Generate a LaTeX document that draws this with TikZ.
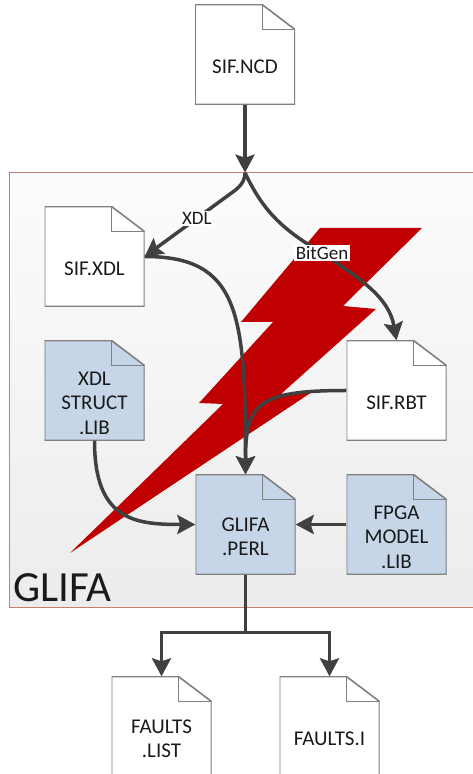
\documentclass[tikz,border=0pt]{standalone}
\usepackage{fontspec}
\setmainfont{Carlito}
\usepackage{tikz}
\usetikzlibrary{positioning}
\usetikzlibrary{arrows.meta}

\definecolor{libblue}{RGB}{198,214,232}
\definecolor{pagegray}{RGB}{128,128,128}
\definecolor{linkgray}{RGB}{64,64,64}
\definecolor{boltred}{RGB}{192,0,0}
\definecolor{framered}{RGB}{196,128,108}
\definecolor{textgray}{RGB}{26,26,26}

\begin{document}
\begin{tikzpicture}[
    x=1pt, y=1pt,                     % everything in points
    on grid,                          % place pages centre to centre
    node distance=134pt and 151pt,    % spacing of the page grid
    ]
% -------------------------------------------------
\tikzset{
  page/.style={rectangle, minimum width=100pt, minimum height=100pt, inner sep=0pt,
    path picture={
      \filldraw[draw=pagegray, line width=1.6pt, fill=#1]
        (path picture bounding box.north west) -- ([xshift=-33pt]path picture bounding box.north east)
        -- ([yshift=-25pt]path picture bounding box.north east) -- (path picture bounding box.south east)
        -- (path picture bounding box.south west) -- cycle;
      \draw[pagegray, line width=0.8pt] ([xshift=-33pt]path picture bounding box.north east)
        |- ([yshift=-25pt]path picture bounding box.north east);
    }},
  page/.default=white,
  pagetext/.style={align=center, text=textgray, yshift=-12.5pt, font=\fontsize{21}{24.5}\selectfont},
  tag/.style={fill=white, inner sep=1.5pt, text=textgray, font=\fontsize{19}{20}\selectfont},
  link/.style={draw=linkgray, line width=3.5pt, -{Stealth[length=18pt, width=19pt, inset=3pt]}},
}
    \useasboundingbox (0,0) rectangle (473,774);

    % GLIFA frame and the bolt behind it all
    \draw[framered, line width=1pt, top color={rgb,255:red,252;green,252;blue,252},
          bottom color={rgb,255:red,236;green,236;blue,236}] (9.5,601) rectangle (490,166);
    \node[anchor=base west, inner sep=0pt, text=textgray, font=\fontsize{43}{43}\selectfont] (glifa) at (13,172) {GLIFA};
    \fill[boltred] (320,546) -- (422,546) -- (343,468) -- (376,465) -- (281,380) -- (312,382)
        -- (70,221) -- (223,370) -- (199,371) -- (273,452) -- (241,452) -- cycle;

    \node [page, label={[pagetext]center:SIF.NCD}] (ncd) at (245,719.5) {};
    \node [page, label={[pagetext]center:SIF.XDL}] (sifxdl) at (94.5,517.5) {};
    \node [page=libblue, below=of sifxdl, label={[pagetext]center:{XDL\\STRUCT\\.LIB}}] (xdlstruct) {};
    \node [page, right=302pt of xdlstruct, label={[pagetext]center:SIF.RBT}] (sifrbt) {};
    \node [page=libblue, below right=of xdlstruct, label={[pagetext]center:{GLIFA\\.PERL}}] (perl) {};
    \node [page=libblue, right=of perl, label={[pagetext]center:{FPGA\\MODEL\\.LIB}}] (fpga) {};
    \node [page, below left=202pt and 84pt of perl, label={[pagetext]center:{FAULTS\\.LIST}}] (flist) {};
    \node [page, below right=202pt and 84pt of perl, label={[pagetext]center:FAULTS.I}] (fi) {};

    \coordinate [below=68pt of ncd.south] (split);
    \coordinate [below=58pt of perl.south] (fork);

    \draw [link] (ncd) -- (split);
    \draw [link] (split) to[out=-90, in=37] ++(-20,-25) -- node[tag, pos=0.35] {XDL} (sifxdl.east);
    \draw [link] (split) to[out=-65, in=150] node[tag, pos=1] {BitGen} ++(77,-80) to[out=-35, in=100] (sifrbt.north);
    \draw [link] (sifxdl.east) .. controls +(95,0) and +(0,160) .. (perl.north);
    \draw [link] (sifrbt.west) .. controls +(-90,0) and +(0,70) .. (perl.north);
    \draw [link] (xdlstruct.south) .. controls +(0,-80) and +(-60,0) .. (perl.west);
    \draw [link] (fpga) -- (perl);
    \draw [link] (perl) -- (fork) -| (flist.north);
    \draw [link] (fork) -| (fi.north);

\end{tikzpicture}
\end{document}
